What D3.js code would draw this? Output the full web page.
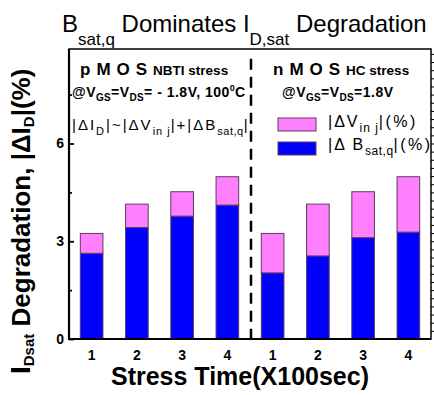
<!DOCTYPE html>
<html>
<head>
<meta charset="utf-8">
<script src="https://cdn.jsdelivr.net/npm/d3@7"></script>
<style>
  body { margin: 0; background: #fff; }
  text { font-family: "Liberation Sans", Arial, sans-serif; fill: #000; }
</style>
</head>
<body>
<svg id="chart" width="434" height="395"></svg>
<script>
// data
const devices = ['pMOS', 'pMOS', 'pMOS', 'pMOS', 'nMOS', 'nMOS', 'nMOS', 'nMOS'];
const stressTimes = ['1', '2', '3', '4', '1', '2', '3', '4'];
const bsatValues = [2.63, 3.42, 3.77, 4.11, 2.03, 2.55, 3.11, 3.28];
const vinjValues = [0.61, 0.72, 0.75, 0.87, 1.21, 1.59, 1.41, 1.70];
const yTicks = [0, 3, 6];
const yMinorTicks = [1.5, 4.5, 7.5];
const seriesKeys = ['bsat', 'vinj'];

const colors = { bsat: '#0000ff', vinj: '#ff80ff' };
const barStroke = '#5e3a5e';

const plotLeft = 69, plotRight = 431, plotTop = 49, plotBottom = 339;

const svg = d3.select('#chart');

// helper for text with sub/superscripts
function richText(g, x, y, parts, size, weight) {
  const t = g.append('text')
    .attr('x', x)
    .attr('y', y)
    .style('font-size', size + 'px')
    .style('font-weight', weight || 'normal');
  let shift = 0;
  parts.forEach((p) => {
    const s = p.shift || 0;
    const ts = t.append('tspan').attr('dy', s - shift).text(p.text);
    shift = s;
    if (p.size) ts.style('font-size', p.size + 'px');
    if (p.ls != null) ts.style('letter-spacing', p.ls + 'px');
  });
  return t;
}

// scales
const keys = devices.map((d, i) => d + stressTimes[i]);
const x = d3.scaleBand().domain(keys).range([plotLeft, plotRight]).paddingInner(0.5).paddingOuter(0.25);
const y = d3.scaleLinear().domain([0, 8.9]).range([plotBottom, plotTop]);

const rows = keys.map((k, i) => ({ key: k, bsat: bsatValues[i], vinj: vinjValues[i] }));
const stacked = d3.stack().keys(seriesKeys)(rows);

// bars
svg.append('g')
  .selectAll('g')
  .data(stacked)
  .join('g')
  .attr('fill', (s) => colors[s.key])
  .selectAll('rect')
  .data((s) => s)
  .join('rect')
  .attr('x', (d) => x(d.data.key))
  .attr('width', x.bandwidth())
  .attr('y', (d) => y(d[1]))
  .attr('height', (d) => y(d[0]) - y(d[1]))
  .attr('stroke', barStroke)
  .attr('stroke-width', 1);

// dashed divider between pMOS and nMOS
const divX = (x('pMOS4') + x.bandwidth() + x('nMOS1')) / 2 + 1;
svg.append('line')
  .attr('x1', divX).attr('x2', divX)
  .attr('y1', y(8.6)).attr('y2', y(-0.2))
  .attr('stroke', '#000')
  .attr('stroke-width', 2.5)
  .attr('stroke-dasharray', '11,7');

// frame
svg.append('rect')
  .attr('x', plotLeft).attr('y', plotTop)
  .attr('width', plotRight - plotLeft).attr('height', plotBottom - plotTop)
  .attr('fill', 'none').attr('stroke', '#000').attr('stroke-width', 1.5);
svg.append('path')
  .attr('d', `M${plotLeft},${plotTop}V${plotBottom}H${plotRight}`)
  .attr('fill', 'none').attr('stroke', '#000').attr('stroke-width', 2.2);

// y axis
const yAxisG = svg.append('g')
  .attr('transform', `translate(${plotLeft},0)`)
  .call(d3.axisLeft(y).tickValues(yTicks).tickSize(-5).tickPadding(5).tickFormat(d3.format('d')));
yAxisG.select('.domain').remove();
yAxisG.selectAll('line').attr('stroke-width', 1.8);
yAxisG.selectAll('text')
  .style('font-family', '"Liberation Sans", Arial, sans-serif')
  .style('font-size', '14px').style('font-weight', 'bold');

const yMinorG = svg.append('g')
  .attr('transform', `translate(${plotLeft},0)`)
  .call(d3.axisLeft(y).tickValues(yMinorTicks).tickSize(-3).tickFormat(''));
yMinorG.select('.domain').remove();
yMinorG.selectAll('line').attr('stroke-width', 1.8);

// right side small ticks
const rightG = svg.append('g')
  .attr('transform', `translate(${plotRight},0)`)
  .call(d3.axisRight(y).tickValues(d3.range(0.25, 8.9, 0.25)).tickSize(3).tickFormat(''));
rightG.select('.domain').remove();

// x axis
const xAxisG = svg.append('g')
  .attr('transform', `translate(0,${plotBottom})`)
  .call(d3.axisBottom(x).tickSize(0).tickPadding(11).tickFormat((d, i) => stressTimes[i]));
xAxisG.select('.domain').remove();
xAxisG.selectAll('text')
  .style('font-family', '"Liberation Sans", Arial, sans-serif')
  .style('font-size', '14px').style('font-weight', 'bold');

// title
richText(svg, 62, 32, [
  { text: 'B' },
  { text: 'sat,q', size: 17, shift: 13 },
  { text: ' Dominates I', shift: 0 },
  { text: 'D,sat', size: 17, shift: 13 },
  { text: ' Degradation', shift: 0 },
], 24);

// axis labels
svg.append('text')
  .attr('x', 240).attr('y', 385)
  .attr('text-anchor', 'middle')
  .style('font-size', '25px').style('font-weight', 'bold')
  .text('Stress Time(X100sec)');

richText(svg, 0, 0, [
  { text: 'I', size: 28 },
  { text: 'Dsat', size: 15, shift: 4 },
  { text: '  Degradation, |ΔI', shift: 0 },
  { text: 'D', size: 15, shift: 4 },
  { text: '|(%)', shift: 0 },
], 26, 'bold').attr('transform', 'translate(30,374) rotate(-90)');

// pMOS annotations
richText(svg, 80, 75, [
  { text: 'pMOS', size: 17, ls: 6 },
  { text: 'NBTI stress', size: 13.5 },
], 17, 'bold');
richText(svg, 72, 97, [
  { text: '@V', ls: 0.5 },
  { text: 'GS', size: 10, shift: 4, ls: 0.3 },
  { text: '=V', shift: 0, ls: 0.5 },
  { text: 'DS', size: 10, shift: 4, ls: 0.3 },
  { text: '= - 1.8V, 100', shift: 0, ls: 0.5 },
  { text: '0', size: 9, shift: -6 },
  { text: 'C', shift: 0 },
], 14, 'bold');
richText(svg, 72, 130, [
  { text: '|ΔI', ls: 2 },
  { text: 'D', size: 11, shift: 5, ls: 2 },
  { text: '|~|ΔV', shift: 0, ls: 2 },
  { text: 'in j', size: 11, shift: 5, ls: 1 },
  { text: '|+|ΔB', shift: 0, ls: 2 },
  { text: 'sat,q', size: 11, shift: 5, ls: 0.5 },
  { text: '|', shift: 0 },
], 15);

// nMOS annotations
richText(svg, 273, 75, [
  { text: 'nMOS', size: 17, ls: 6 },
  { text: 'HC stress', size: 13.5 },
], 17, 'bold');
richText(svg, 282, 97, [
  { text: '@V', ls: 0.5 },
  { text: 'GS', size: 10, shift: 4, ls: 0.3 },
  { text: '=V', shift: 0, ls: 0.5 },
  { text: 'DS', size: 10, shift: 4, ls: 0.3 },
  { text: '=1.8V', shift: 0, ls: 0.5 },
], 14, 'bold');

// legend
const legendItems = [
  { key: 'vinj', parts: [
    { text: '|ΔV', ls: 2 },
    { text: 'in j', size: 12, shift: 5, ls: 1 },
    { text: '|(%)', shift: 0, ls: 2.5 },
  ] },
  { key: 'bsat', parts: [
    { text: '|Δ B', ls: 2 },
    { text: 'sat,q', size: 12, shift: 5, ls: 0.5 },
    { text: '|(%)', shift: 0, ls: 2.5 },
  ] },
];
const legend = svg.append('g').attr('transform', 'translate(278,118)');
legendItems.forEach((item, i) => {
  legend.append('rect')
    .attr('x', 0).attr('y', i * 24)
    .attr('width', 38).attr('height', 13)
    .attr('fill', colors[item.key])
    .attr('stroke', barStroke).attr('stroke-width', 1);
  richText(legend, 50, i * 23 + 9, item.parts, 16);
});
</script>
</body>
</html>
